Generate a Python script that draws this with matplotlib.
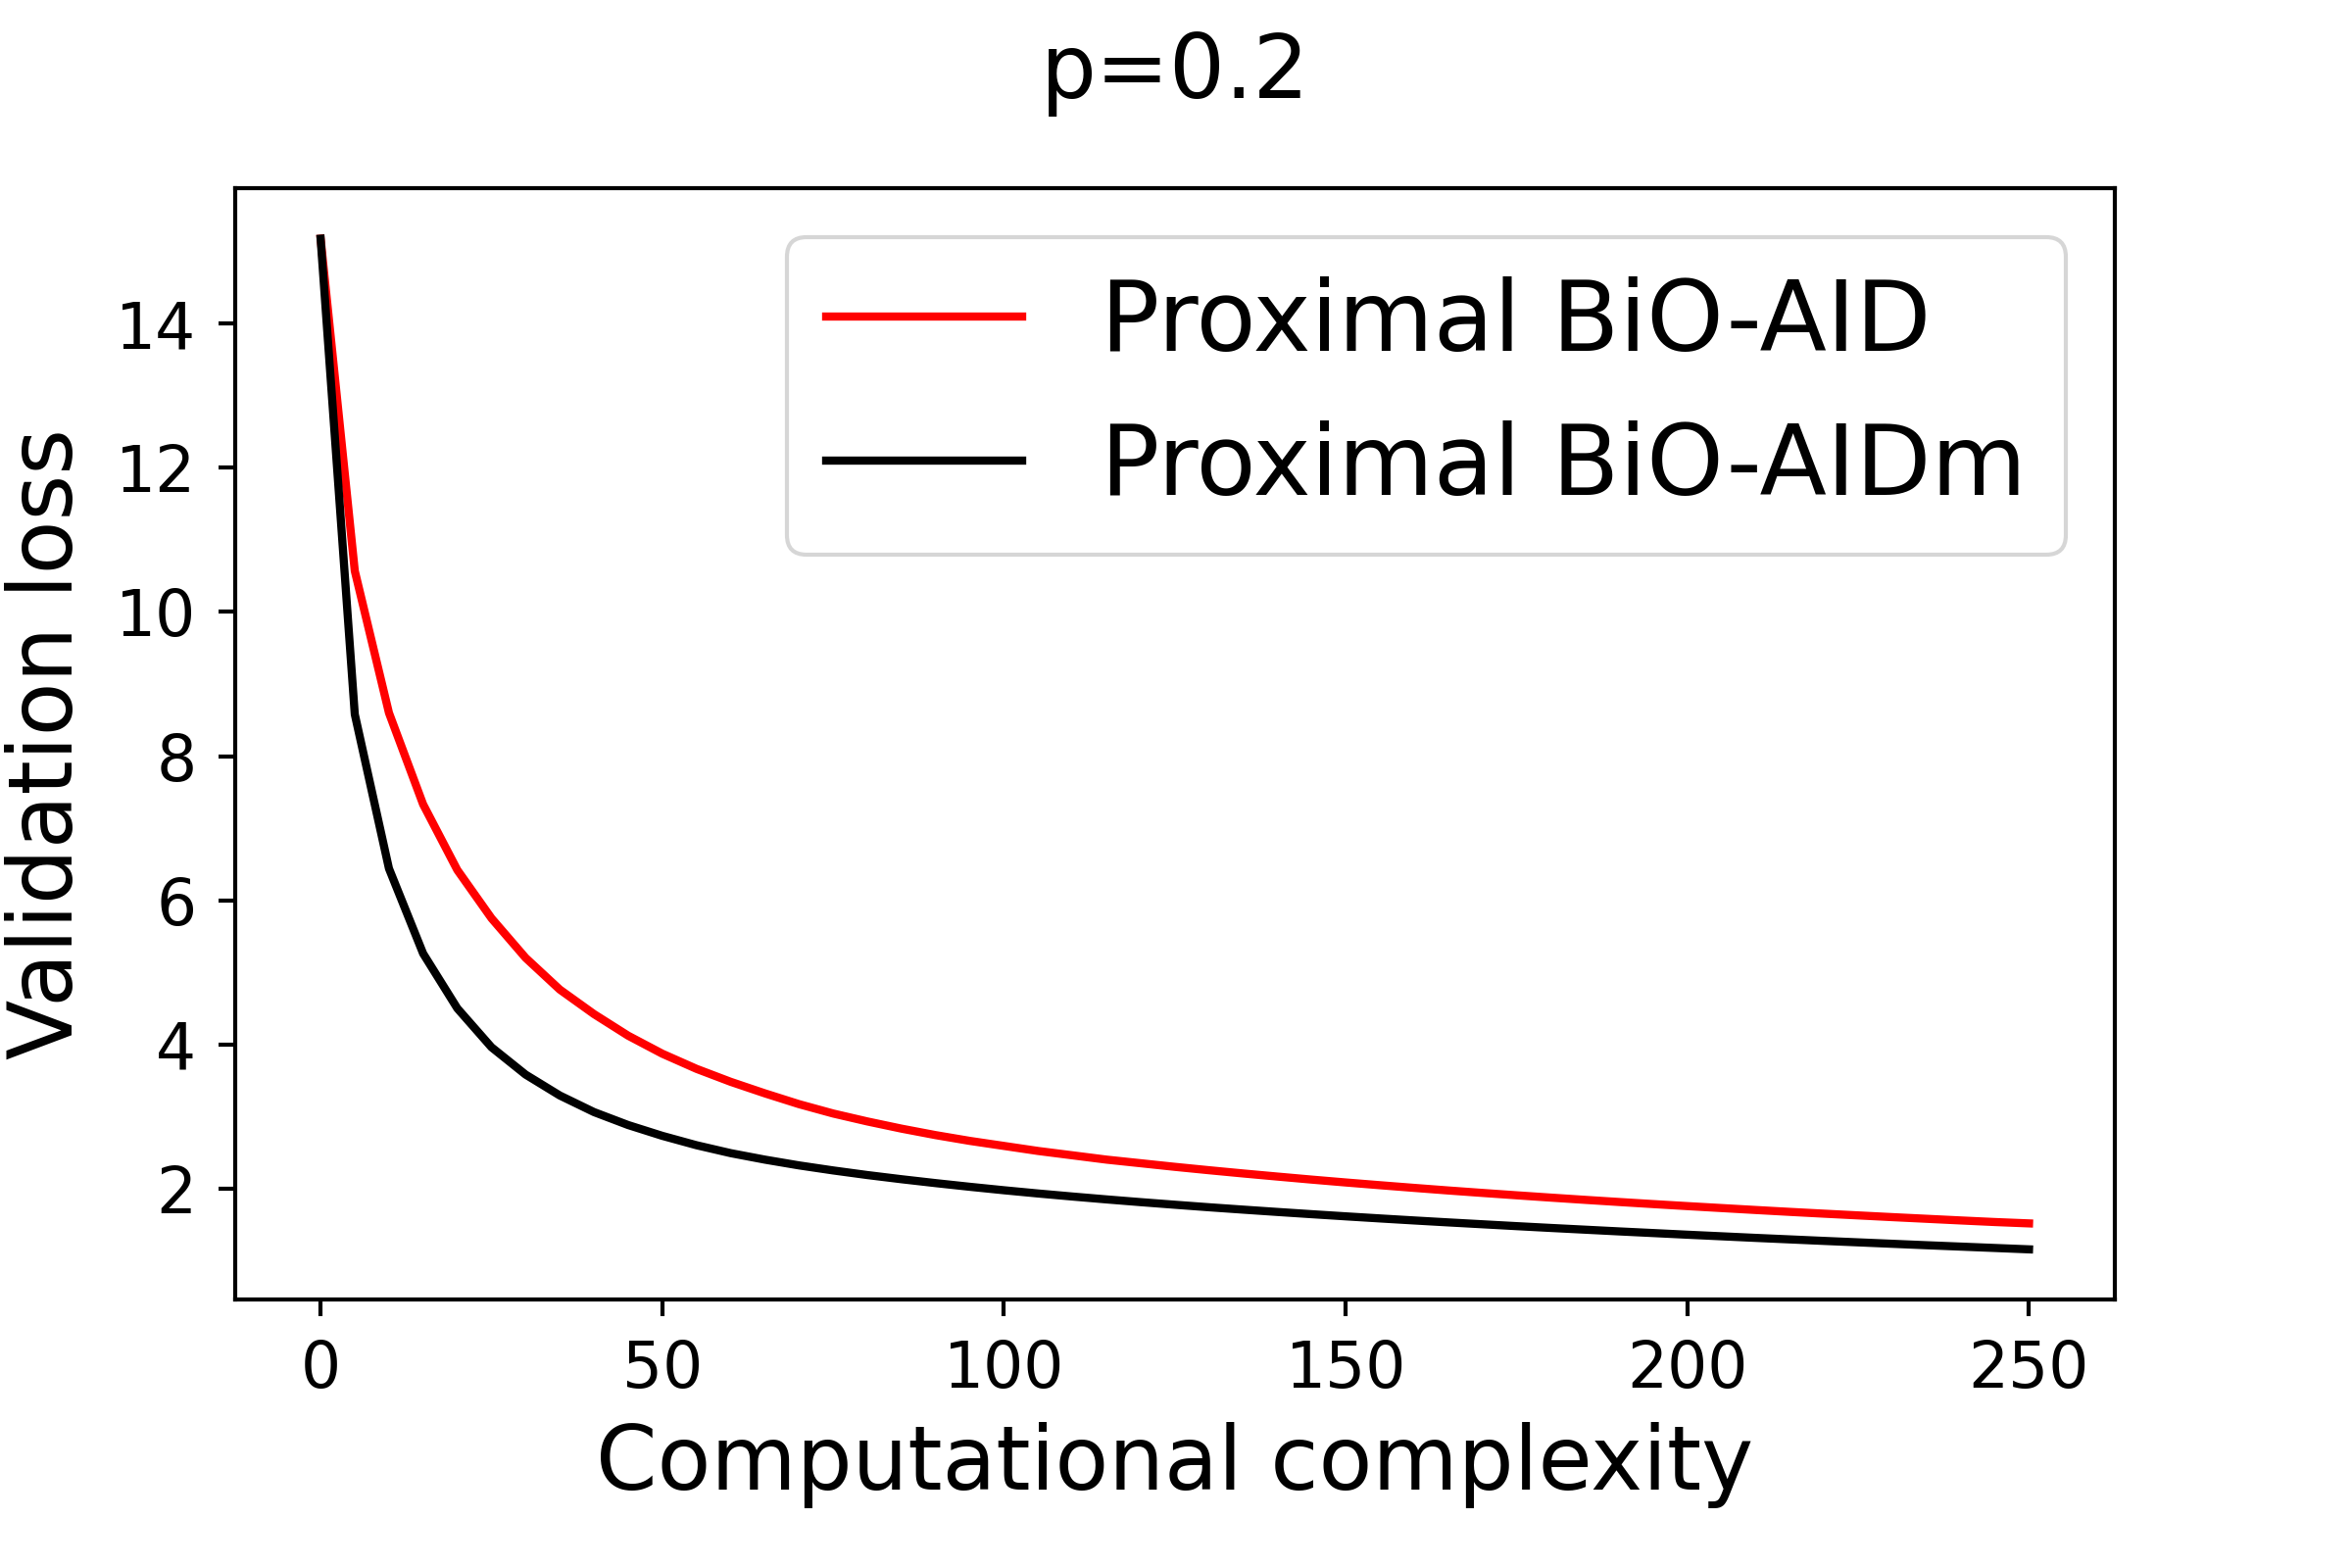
import matplotlib
matplotlib.use("Agg")
import matplotlib.pyplot as plt

complexity = list(range(0, 251, 5))

aid = [15.18, 10.57, 8.60, 7.33, 6.42, 5.75, 5.20, 4.76, 4.42, 4.12,
       3.87, 3.66, 3.48, 3.32, 3.17, 3.04, 2.93, 2.83, 2.74, 2.66,
       2.59, 2.52, 2.46, 2.40, 2.35, 2.30, 2.253, 2.208, 2.165, 2.123,
       2.083, 2.045, 2.008, 1.972, 1.938, 1.905, 1.873, 1.842, 1.812, 1.783,
       1.755, 1.728, 1.701, 1.675, 1.650, 1.626, 1.602, 1.579, 1.556, 1.534,
       1.515]

aidm = [15.18, 8.58, 6.44, 5.26, 4.50, 3.96, 3.58, 3.29, 3.06, 2.88,
        2.73, 2.60, 2.49, 2.40, 2.32, 2.25, 2.186, 2.128, 2.074, 2.023,
        1.975, 1.930, 1.888, 1.848, 1.810, 1.774, 1.739, 1.706, 1.674, 1.643,
        1.613, 1.584, 1.556, 1.529, 1.503, 1.477, 1.452, 1.428, 1.404, 1.381,
        1.358, 1.336, 1.314, 1.293, 1.272, 1.252, 1.232, 1.212, 1.193, 1.174,
        1.155]

labels = ["Proximal BiO-AID", "Proximal BiO-AIDm"]
colors = ["red", "black"]

plt.rcParams["font.family"] = ["DejaVu Sans"]
plt.rcParams["axes.linewidth"] = 1.0

fig = plt.figure(figsize=(8, 16 / 3), dpi=300)
ax = fig.add_axes([0.1, 0.171, 0.799, 0.709])

ax.plot(complexity, aid, color=colors[0], lw=2, label=labels[0])
ax.plot(complexity, aidm, color=colors[1], lw=2, label=labels[1])

ax.set_yticks([2, 4, 6, 8, 10, 12, 14])
ax.tick_params(labelsize=15.5, width=1.0, length=4, pad=5.5)
ax.set_xlabel("Computational complexity", fontsize=21.5, labelpad=5)
ax.set_ylabel("Validation loss", fontsize=21.5, labelpad=6)
ax.set_title("p=0.2", fontsize=21.5, pad=22)
ax.legend(fontsize=24, loc="upper right")

fig.savefig("out.png", dpi=300)
